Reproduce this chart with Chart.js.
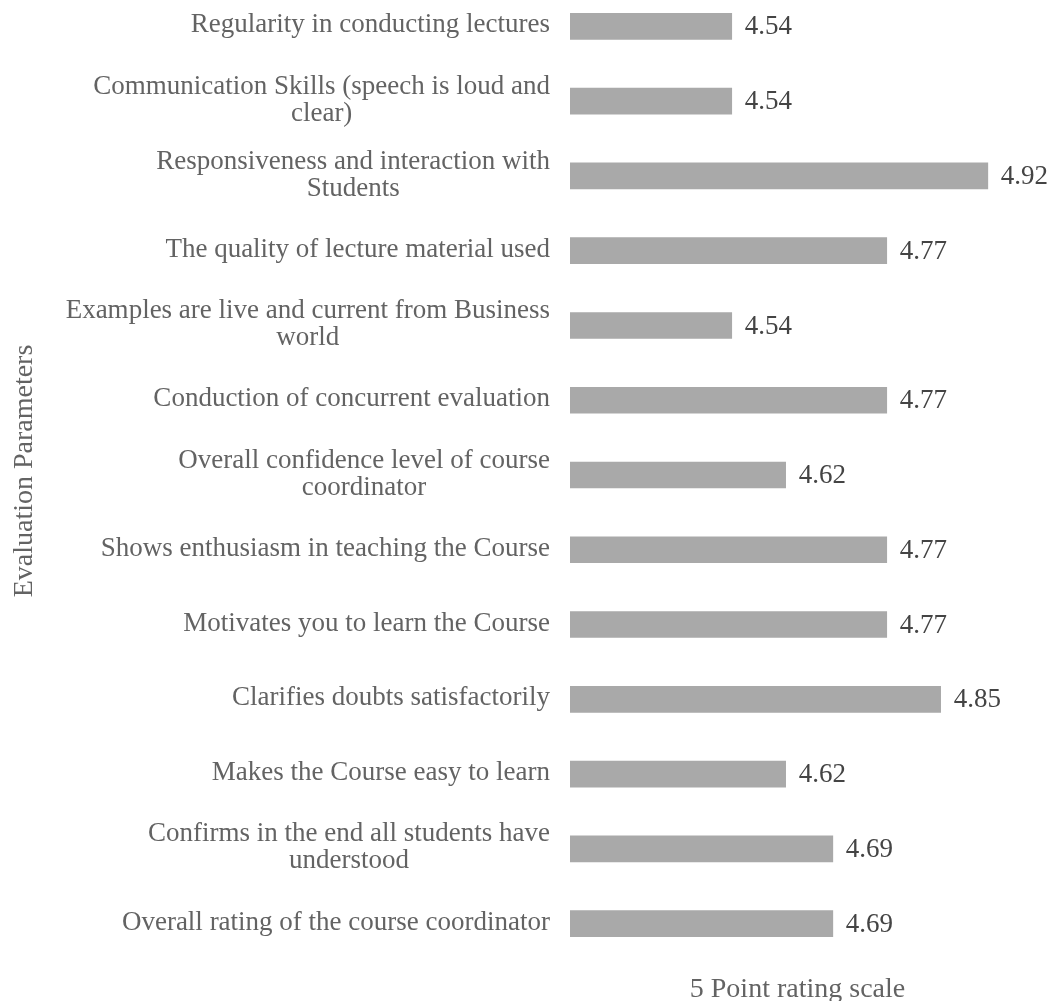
<!DOCTYPE html>
<html>
<head>
    <script src="https://cdn.jsdelivr.net/npm/chart.js"></script>
    <meta charset="UTF-8">
    <title>Course Coordinator Evaluation</title>
    <style>
        body {
            margin: 0;
            background: #ffffff;
            overflow: hidden;
        }
        .wrap {
            position: absolute;
            left: 0;
            top: -11px;
            width: 1064px;
            height: 1040px;
        }
    </style>
</head>
<body>
    <div class="wrap"><canvas id="evalChart"></canvas></div>

    <script>
        const parameters = [
            ["Regularity in conducting lectures"],
            ["Communication Skills (speech is loud and", "clear)"],
            ["Responsiveness and interaction with", "Students"],
            ["The quality of lecture material used"],
            ["Examples are live and current from Business", "world"],
            ["Conduction of concurrent evaluation"],
            ["Overall confidence level of course", "coordinator"],
            ["Shows enthusiasm in teaching the Course"],
            ["Motivates you to learn the Course"],
            ["Clarifies doubts satisfactorily"],
            ["Makes the Course easy to learn"],
            ["Confirms in the end all students have", "understood"],
            ["Overall rating of the course coordinator"]
        ];
        const ratings = [4.54, 4.54, 4.92, 4.77, 4.54, 4.77, 4.62, 4.77, 4.77, 4.85, 4.62, 4.69, 4.69];
        const yTitle = "Evaluation Parameters";
        const xTitle = "5 Point rating scale";

        const serif = "'Liberation Serif', 'DejaVu Serif', serif";

        // labels, values and axis titles drawn with scale positions
        const textPlugin = {
            id: 'textPlugin',
            afterDraw(chart) {
                const ctx = chart.ctx;
                const yScale = chart.scales.y;
                const area = chart.chartArea;
                const meta = chart.getDatasetMeta(0);
                ctx.save();

                ctx.font = "27px " + serif;
                ctx.fillStyle = "#636363";
                ctx.textAlign = "center";
                ctx.textBaseline = "middle";
                const right = 550;
                const lh = 27;
                parameters.forEach((lines, i) => {
                    const cy = yScale.getPixelForValue(i);
                    const w = Math.max(...lines.map(l => ctx.measureText(l).width));
                    const cx = right - w / 2;
                    const y0 = cy - (lines.length - 1) * lh / 2 - 1;
                    lines.forEach((l, j) => ctx.fillText(l, cx, y0 + j * lh));
                });

                ctx.font = "27px " + serif;
                ctx.fillStyle = "#444444";
                ctx.textAlign = "left";
                meta.data.forEach((bar, i) => {
                    ctx.fillText(ratings[i].toFixed(2), bar.x + 13, bar.y + 1);
                });

                ctx.font = "28px " + serif;
                ctx.fillStyle = "#636363";
                ctx.textAlign = "center";
                ctx.save();
                ctx.translate(25, 482);
                ctx.rotate(-Math.PI / 2);
                ctx.fillText(yTitle, 0, 0);
                ctx.restore();

                ctx.textBaseline = "alphabetic";
                ctx.fillText(xTitle, (area.left + area.right) / 2 - 5, 1008);
                ctx.restore();
            }
        };

        const ctx = document.getElementById('evalChart').getContext('2d');
        const evalChart = new Chart(ctx, {
            type: 'bar',
            data: {
                labels: parameters,
                datasets: [{
                    data: ratings,
                    backgroundColor: '#a9a9a9',
                    borderWidth: 0,
                    barThickness: 26
                }]
            },
            options: {
                indexAxis: 'y',
                responsive: true,
                maintainAspectRatio: false,
                animation: false,
                layout: {
                    padding: { left: 570, right: 29, top: 0, bottom: 68 }
                },
                scales: {
                    x: { display: false, min: 4.3, max: 4.99 },
                    y: { display: false }
                },
                plugins: {
                    legend: { display: false },
                    tooltip: { enabled: false }
                }
            },
            plugins: [textPlugin]
        });
    </script>
</body>
</html>
